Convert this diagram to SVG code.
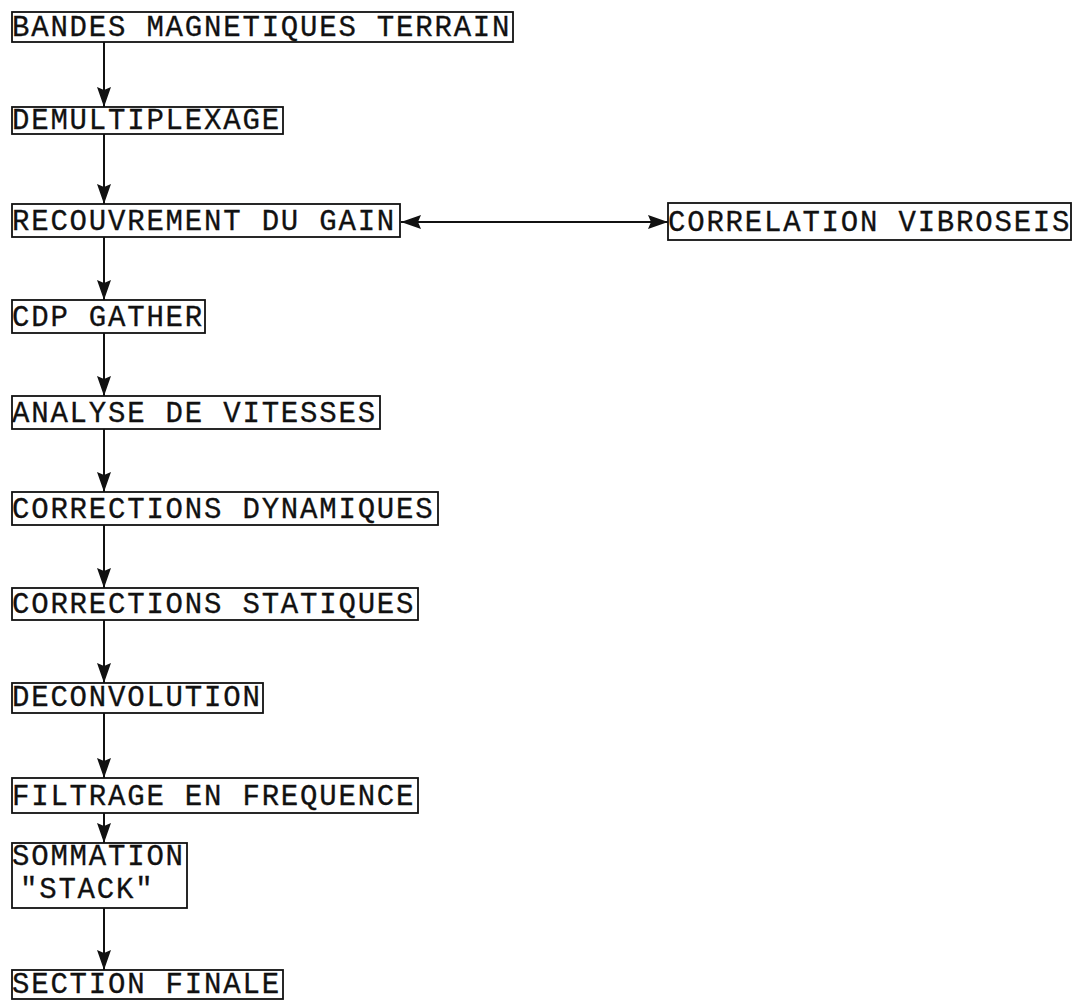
<svg xmlns="http://www.w3.org/2000/svg" width="1077" height="1003" viewBox="0 0 1077 1003">
  <style>
    .box { fill: #ffffff; stroke: #111111; stroke-width: 1.8; }
    .lbl { font-family: "Liberation Mono", "Courier New", monospace; font-size: 29px; letter-spacing: 1.8px; fill: #111111; stroke: #111111; stroke-width: 0.3; }
    .con { stroke: #111111; stroke-width: 2; fill: none; }
  </style>
  <defs>
    <marker id="ah" viewBox="0 0 20 14" refX="20" refY="7" markerWidth="20" markerHeight="14" markerUnits="userSpaceOnUse" orient="auto-start-reverse">
      <path d="M0,0 L20,7 L0,14 L3,7 z" fill="#111111"/>
    </marker>
  </defs>
  <rect width="1077" height="1003" fill="#ffffff"/>

  <g id="connectors">
    <line class="con" x1="104" y1="42" x2="104" y2="107" marker-end="url(#ah)"/>
    <line class="con" x1="104" y1="134" x2="104" y2="204" marker-end="url(#ah)"/>
    <line class="con" x1="104" y1="237" x2="104" y2="300" marker-end="url(#ah)"/>
    <line class="con" x1="104" y1="333" x2="104" y2="396" marker-end="url(#ah)"/>
    <line class="con" x1="104" y1="429" x2="104" y2="492" marker-end="url(#ah)"/>
    <line class="con" x1="104" y1="525" x2="104" y2="588" marker-end="url(#ah)"/>
    <line class="con" x1="104" y1="620" x2="104" y2="683" marker-end="url(#ah)"/>
    <line class="con" x1="104" y1="713" x2="104" y2="778" marker-end="url(#ah)"/>
    <line class="con" x1="104" y1="813" x2="104" y2="843" marker-end="url(#ah)"/>
    <line class="con" x1="104" y1="908" x2="104" y2="970" marker-end="url(#ah)"/>
    <line class="con" x1="401" y1="222" x2="668" y2="222" marker-start="url(#ah)" marker-end="url(#ah)"/>
  </g>

  <g id="n1">
    <rect class="box" x="12" y="12" width="501" height="30"/>
    <text class="lbl" x="12" y="36">BANDES MAGNETIQUES TERRAIN</text>
  </g>
  <g id="n2">
    <rect class="box" x="12" y="107" width="271" height="27"/>
    <text class="lbl" x="12" y="129">DEMULTIPLEXAGE</text>
  </g>
  <g id="n3">
    <rect class="box" x="12" y="204" width="388" height="33"/>
    <text class="lbl" x="12" y="230">RECOUVREMENT DU GAIN</text>
  </g>
  <g id="n3b">
    <rect class="box" x="668" y="203" width="403" height="37"/>
    <text class="lbl" x="668" y="231">CORRELATION VIBROSEIS</text>
  </g>
  <g id="n4">
    <rect class="box" x="12" y="300" width="193" height="33"/>
    <text class="lbl" x="12" y="326">CDP GATHER</text>
  </g>
  <g id="n5">
    <rect class="box" x="12" y="396" width="368" height="33"/>
    <text class="lbl" x="12" y="422">ANALYSE DE VITESSES</text>
  </g>
  <g id="n6">
    <rect class="box" x="12" y="492" width="426" height="33"/>
    <text class="lbl" x="12" y="518">CORRECTIONS DYNAMIQUES</text>
  </g>
  <g id="n7">
    <rect class="box" x="12" y="588" width="406" height="32"/>
    <text class="lbl" x="12" y="613">CORRECTIONS STATIQUES</text>
  </g>
  <g id="n8">
    <rect class="box" x="12" y="683" width="251" height="30"/>
    <text class="lbl" x="12" y="706">DECONVOLUTION</text>
  </g>
  <g id="n9">
    <rect class="box" x="12" y="778" width="406" height="35"/>
    <text class="lbl" x="12" y="805">FILTRAGE EN FREQUENCE</text>
  </g>
  <g id="n10">
    <rect class="box" x="12" y="843" width="175" height="65"/>
    <text class="lbl" x="12" y="865">SOMMATION</text>
    <text class="lbl" x="20" y="898">"STACK"</text>
  </g>
  <g id="n11">
    <rect class="box" x="12" y="970" width="271" height="29"/>
    <text class="lbl" x="12" y="993">SECTION FINALE</text>
  </g>
</svg>
